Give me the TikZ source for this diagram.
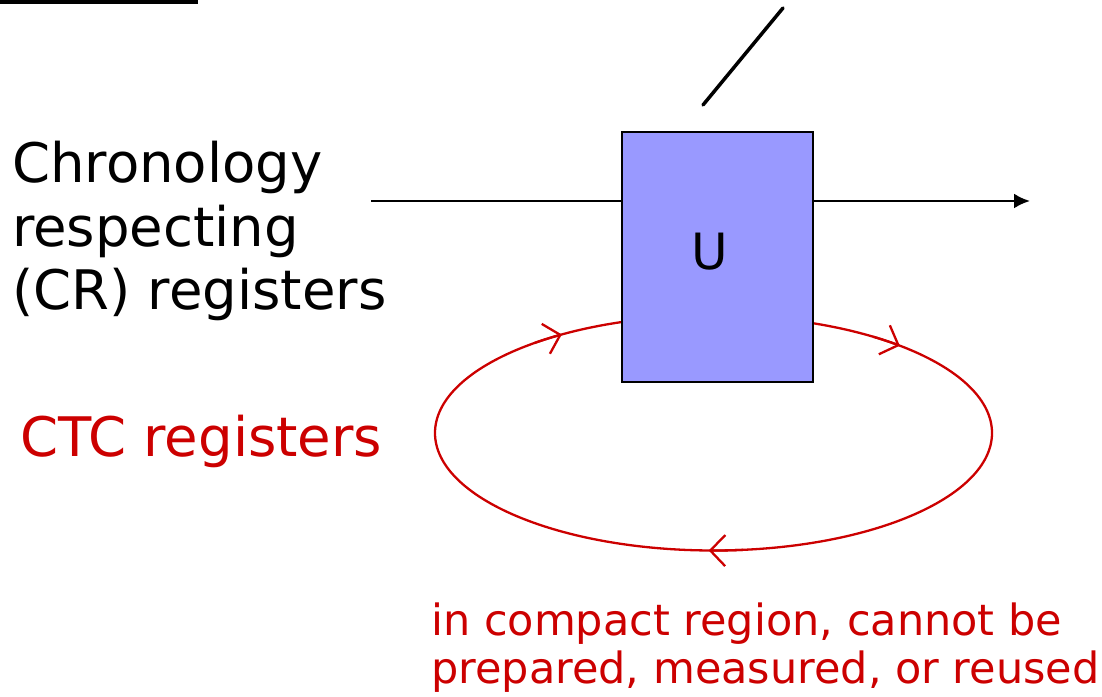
\documentclass[tikz,border=0pt]{standalone}
\usepackage{fontspec}
\setmainfont{DejaVu Sans}
\usetikzlibrary{arrows.meta}
\definecolor{ctcred}{HTML}{CC0000}
\definecolor{boxblue}{HTML}{9999FF}
\begin{document}
\begin{tikzpicture}[x=1pt,y=1pt,
  wire/.style={line width=2.5pt},
  ctcloop/.style={draw=ctcred, line width=2.3pt},
  barb/.style={draw=ctcred, line width=2.3pt, -{Straight Barb[length=15pt,width=31pt]}},
  gatebox/.style={draw=black, line width=2.5pt, fill=boxblue, minimum width=191pt, minimum height=250pt, inner sep=0pt},
  bigtext/.style={inner sep=0pt, anchor=base west, font=\fontsize{54.5}{63.5}\selectfont, align=left},
  smalltext/.style={inner sep=0pt, anchor=base west, font=\fontsize{43}{48}\selectfont, align=left, text=ctcred}
]
\useasboundingbox (0,0) rectangle (1102,696);
% top-left rule
\coordinate (ruleA) at (0,694);
\coordinate (ruleB) at (198,694);
\draw[line width=4pt] (ruleA) -- (ruleB);
% CTC loop
\coordinate (loopc) at (713.5,263);
\draw[ctcloop] (loopc) ellipse [x radius=278.5pt, y radius=117.5pt];
\draw[barb] (loopc) ++(130:278.5pt and 117.5pt) arc[start angle=130, end angle=123, x radius=278.5pt, y radius=117.5pt];
\draw[barb] (loopc) ++(55:278.5pt and 117.5pt) arc[start angle=55, end angle=48, x radius=278.5pt, y radius=117.5pt];
\draw[barb] (loopc) ++(276:278.5pt and 117.5pt) arc[start angle=276, end angle=269, x radius=278.5pt, y radius=117.5pt];
% gate
\node[gatebox] (box) at (717.5,439) {};
\node[inner sep=0pt, font=\fontsize{50}{60}\selectfont] (ulabel) at (710,444) {U};
% CR wire
\coordinate (wirein) at (371,495);
\coordinate (wireout) at (1030,495);
\draw[wire] (wirein) -- (wirein -| box.west);
\draw[wire, -{Latex[length=16pt,width=15pt]}] (wirein -| box.east) -- (wireout);
% slash
\coordinate (slashA) at (703,591);
\coordinate (slashB) at (783,688);
\draw[line width=3.5pt, line cap=round] (slashA) -- (slashB);
% labels
\node[bigtext] (crlabel) at (12,386) {Chronology\\respecting\\(CR) registers};
\node[bigtext, text=ctcred] (ctclabel) at (20,239) {CTC registers};
\node[smalltext] (note) at (431,13) {in compact region, cannot be\\prepared, measured, or reused};
\end{tikzpicture}
\end{document}
